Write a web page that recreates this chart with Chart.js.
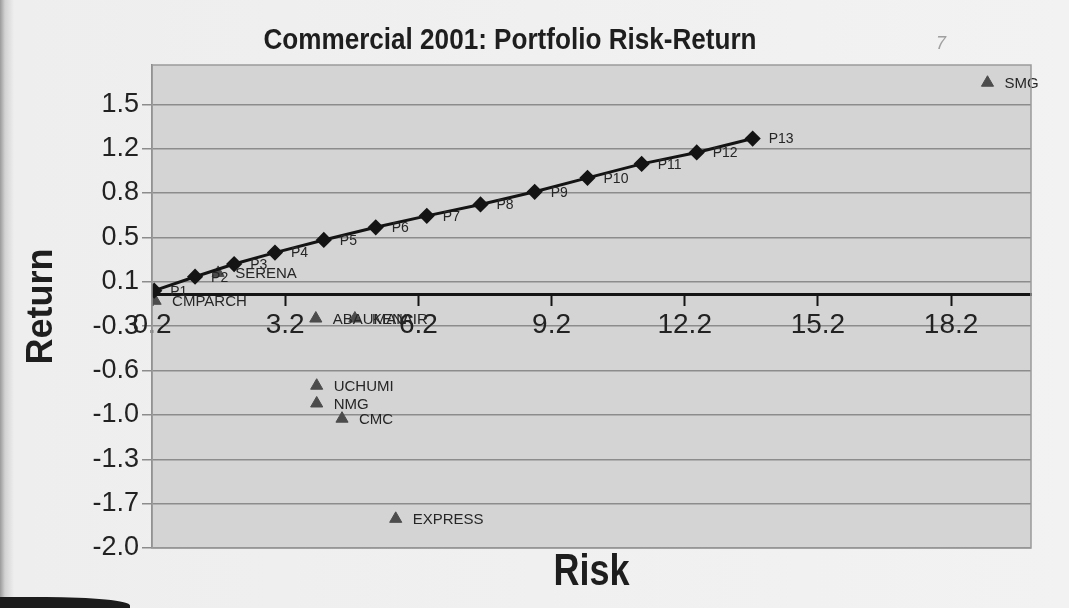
<!DOCTYPE html>
<html>
<head>
<meta charset="utf-8">
<title>Commercial 2001: Portfolio Risk-Return</title>
<script src="https://cdn.jsdelivr.net/npm/chart.js@4/dist/chart.umd.min.js"></script>
<style>
  html, body { margin: 0; padding: 0; }
  body {
    width: 1069px; height: 608px; overflow: hidden; position: relative;
    background: linear-gradient(to right, #9a9a9a 0px, #d2d2d2 5px, #eeeeee 14px, #f2f2f2 100%);
  }
  #wrap { position: absolute; left: 0; top: 0; width: 1069px; height: 608px; }
  .smudge {
    position: absolute; left: -10px; top: 597px; width: 140px; height: 14px;
    background: #1c1c1c; border-radius: 0 60% 0 0;
  }
</style>
</head>
<body>
<div id="wrap"><canvas id="riskReturn" width="1069" height="608"></canvas></div>
<div class="smudge"></div>
<script>
// efficient frontier portfolios
const portfolioNames = ['P1', 'P2', 'P3', 'P4', 'P5', 'P6', 'P7', 'P8', 'P9', 'P10', 'P11', 'P12', 'P13'];
const portfolioRisk = [0.25, 1.17, 2.05, 2.97, 4.07, 5.24, 6.39, 7.60, 8.82, 10.01, 11.23, 12.47, 13.73];
const portfolioReturn = [0.03, 0.14, 0.24, 0.33, 0.43, 0.53, 0.62, 0.71, 0.81, 0.92, 1.03, 1.12, 1.23];

// individual commercial stocks
const stockNames = ['SMG', 'SERENA', 'CMPARCH', 'ABAUMAN', 'KENAIR', 'UCHUMI', 'NMG', 'CMC', 'EXPRESS'];
const stockRisk = [19.02, 1.69, 0.27, 3.89, 4.77, 3.91, 3.91, 4.48, 5.69];
const stockReturn = [1.67, 0.17, -0.05, -0.19, -0.19, -0.72, -0.86, -0.98, -1.77];

// axis ticks (Excel-style, step 3 on risk, 0.35 on return)
const riskTicks = [0.2, 3.2, 6.2, 9.2, 12.2, 15.2, 18.2];
const returnTicks = [-2.0, -1.65, -1.3, -0.95, -0.6, -0.25, 0.1, 0.45, 0.8, 1.15, 1.5];
const returnTickLabels = ['-2.0', '-1.7', '-1.3', '-1.0', '-0.6', '-0.3', '0.1', '0.5', '0.8', '1.2', '1.5'];

const FONT = '"Liberation Sans", Arial, sans-serif';

// grey plot area with a thin frame
const plotBackdrop = {
    id: 'plotBackdrop',
    beforeDraw(chart) {
        const { ctx, chartArea: a } = chart;
        ctx.save();
        ctx.fillStyle = '#d4d4d4';
        ctx.fillRect(a.left, a.top, a.right - a.left, a.bottom - a.top);
        ctx.restore();
    },
    afterDraw(chart) {
        const { ctx, chartArea: a } = chart;
        ctx.save();
        ctx.strokeStyle = '#9a9a9a';
        ctx.lineWidth = 1.5;
        ctx.strokeRect(a.left, a.top, a.right - a.left, a.bottom - a.top);
        ctx.restore();
    }
};

// point labels to the right of each marker
const pointNames = {
    id: 'pointNames',
    afterDatasetsDraw(chart) {
        const { ctx } = chart;
        ctx.save();
        ctx.textBaseline = 'middle';
        ctx.textAlign = 'left';
        chart.data.datasets.forEach((ds, i) => {
            const meta = chart.getDatasetMeta(i);
            ctx.font = ds.labelFont;
            ctx.fillStyle = '#262626';
            meta.data.forEach((pt, j) => {
                ctx.fillText(ds.names[j], pt.x + ds.labelGap, pt.y + 1);
            });
        });
        ctx.restore();
    }
};

// condensed bold text, like a narrow face
function narrowText(ctx, text, x, y, size, squeeze) {
    ctx.save();
    ctx.translate(x, y);
    ctx.scale(squeeze, 1);
    ctx.font = 'bold ' + size + 'px ' + FONT;
    ctx.fillText(text, 0, 0);
    ctx.restore();
}

// chart title, axis caption and the small pencil mark
const captions = {
    id: 'captions',
    afterDraw(chart) {
        const { ctx, chartArea: a } = chart;
        ctx.save();
        ctx.fillStyle = '#1e1e1e';
        ctx.textAlign = 'center';
        ctx.textBaseline = 'middle';
        narrowText(ctx, 'Commercial 2001: Portfolio Risk-Return', 510, 41, 29, 0.9);
        narrowText(ctx, 'Risk', (a.left + a.right) / 2, 573, 45, 0.8);
        ctx.fillStyle = '#a0a0a0';
        ctx.font = 'italic 18px ' + FONT;
        ctx.fillText('7', 941, 44);
        ctx.restore();
    }
};

new Chart(document.getElementById('riskReturn'), {
    type: 'scatter',
    data: {
        datasets: [
            {
                label: 'Portfolios',
                names: portfolioNames,
                labelFont: '14px ' + FONT,
                labelGap: 16,
                data: portfolioRisk.map((x, i) => ({ x, y: portfolioReturn[i] })),
                showLine: true,
                borderColor: '#141414',
                borderWidth: 3,
                pointStyle: 'rectRot',
                pointRadius: 6,
                pointBackgroundColor: '#141414',
                pointBorderColor: '#141414',
                order: 1
            },
            {
                label: 'Stocks',
                names: stockNames,
                labelFont: '15px ' + FONT,
                labelGap: 17,
                data: stockRisk.map((x, i) => ({ x, y: stockReturn[i] })),
                pointStyle: 'triangle',
                pointRadius: 7,
                pointBackgroundColor: '#4c4c4c',
                pointBorderColor: '#4c4c4c',
                order: 2
            }
        ]
    },
    options: {
        responsive: false,
        animation: false,
        layout: { padding: { left: 0, top: 65, right: 38, bottom: 60 } },
        plugins: {
            legend: { display: false },
            tooltip: { enabled: false }
        },
        scales: {
            x: {
                type: 'linear',
                min: 0.2,
                max: 20.0,
                position: { y: 0 },
                afterBuildTicks: (axis) => { axis.ticks = riskTicks.map(v => ({ value: v })); },
                border: { color: '#141414', width: 3 },
                grid: { drawOnChartArea: false, drawTicks: true, tickLength: 10, tickColor: '#141414', tickWidth: 2 },
                ticks: {
                    autoSkip: false, maxRotation: 0, padding: 4,
                    color: '#222', font: { family: FONT, size: 28 },
                    callback: (v) => v.toFixed(1)
                }
            },
            y: {
                type: 'linear',
                min: -2.0,
                max: 1.81,
                afterBuildTicks: (axis) => { axis.ticks = returnTicks.map(v => ({ value: v })); },
                afterFit: (axis) => { axis.width = 152; },
                border: { color: '#7a7a7a', width: 1.5 },
                grid: { color: '#8c8c8c', lineWidth: 1.5, tickLength: 10 },
                ticks: {
                    autoSkip: false, padding: 3,
                    color: '#222', font: { family: FONT, size: 27 },
                    callback: (v, i) => returnTickLabels[i]
                },
                title: {
                    display: true,
                    text: 'Return',
                    color: '#1e1e1e',
                    font: { family: FONT, size: 36, weight: 'bold' },
                    padding: { top: 20, bottom: 0 }
                }
            }
        }
    },
    plugins: [plotBackdrop, pointNames, captions]
});
</script>
</body>
</html>
